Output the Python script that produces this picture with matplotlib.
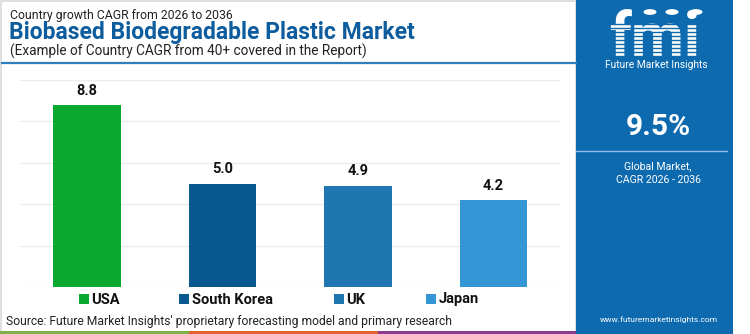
import matplotlib
matplotlib.use('Agg')
import matplotlib.pyplot as plt
from matplotlib.patches import Rectangle, Circle
from matplotlib.lines import Line2D

countries = ['USA', 'South Korea', 'UK', 'Japan']
cagr = [8.8, 5.0, 4.9, 4.2]
bar_colors = ['#0aa82e', '#06588f', '#1f76b1', '#3596d6']

title_top = 'Country growth CAGR from 2026 to 2036'
title_main = 'Biobased Biodegradable Plastic Market'
title_sub = '(Example of Country CAGR from 40+ covered in the Report)'
global_cagr = '9.5%'
source = "Source: Future Market Insights' proprietary forecasting model and primary research"

W, H = 750, 334
panel_blue = '#0e6aae'
plt.rcParams['font.family'] = ['Roboto', 'DejaVu Sans']

fig = plt.figure(figsize=(W / 100, H / 100), dpi=100)


def fx(x):
    return x / W


def fy(y):
    return 1 - y / H


def px_text(x, y, s, **kw):
    fig.text(fx(x), fy(y), s, **kw)


def px_rect(x0, y0, x1, y1, **kw):
    fig.patches.append(Rectangle((fx(x0), fy(y1)), (x1 - x0) / W, (y1 - y0) / H,
                                 transform=fig.transFigure, **kw))


def px_line(x0, y0, x1, y1, **kw):
    fig.lines.append(Line2D([fx(x0), fx(x1)], [fy(y0), fy(y1)],
                            transform=fig.transFigure, **kw))


# page frame and bottom colour strip
px_rect(0.5, 0.5, 576, 333, facecolor='white', edgecolor='#d9d9d9', lw=1.2, zorder=-5)
px_rect(0, 330.5, 189, 334, facecolor='#7db24a', edgecolor='none', zorder=1)
px_rect(189, 330.5, 378, 334, facecolor='#e0632f', edgecolor='none', zorder=1)
px_rect(378, 330.5, 576, 334, facecolor='#8e3a8f', edgecolor='none', zorder=1)

# titles
px_text(10, 15, title_top, fontsize=8.8, color='#222222', va='center')
px_text(9, 33, title_main, fontsize=16.5, fontweight='bold', color='#0d5c9e', va='center')
px_text(10, 51, title_sub, fontsize=9.8, color='#222222', va='center')
px_line(2, 63, 576, 63, color='#2f7fbf', lw=1.6)

# bar chart
ax = fig.add_axes([fx(20), fy(287), (560 - 20) / W, (287 - 80) / H])
x = range(len(countries))
bars = ax.bar(x, cagr, width=0.5, color=bar_colors, zorder=3)
for b, v in zip(bars, cagr):
    ax.text(b.get_x() + b.get_width() / 2, v + 0.35, f'{v:.1f}', ha='center', va='bottom',
            fontsize=10.5, fontweight='bold', color='#111111')
ax.set_ylim(0, 10)
ax.set_xlim(-0.493, 3.49)
ax.set_yticks([0, 2, 4, 6, 8, 10])
ax.grid(axis='y', color='#ebebeb', lw=1)
ax.tick_params(left=False, bottom=False, labelleft=False, labelbottom=False)
for s in ax.spines.values():
    s.set_visible(False)

# legend row
leg_x = [79, 179, 334, 426]
for lx, name, c in zip(leg_x, countries, bar_colors):
    px_rect(lx, 294, lx + 10, 304, facecolor=c, edgecolor='none')
    px_text(lx + 12.5, 299.5, name, fontsize=10.5, fontweight='bold', color='#111111', va='center')

px_text(6, 321.5, source, fontsize=8.75, color='#222222', va='center')

# right info panel
px_rect(576, 0, 733, 334, facecolor=panel_blue, edgecolor='none', zorder=1)
cx = 656
px_text(cx - 1, 56, 'fmi', fontsize=44, fontweight='bold', color='white', ha='center',
        va='baseline', zorder=3)
for yy in range(24, 57, 4):
    px_line(596, yy, 716, yy, color=panel_blue, lw=1.0, zorder=4)
for ccx in [650, 672, 696]:
    fig.patches.append(Circle((fx(ccx), fy(12)), 6.5 / W, transform=fig.transFigure,
                              facecolor='white', edgecolor='none', zorder=5))
px_text(cx, 65.5, 'Future Market Insights', fontsize=7.4, color='white', ha='center', va='center')
px_text(cx + 2, 127, global_cagr, fontsize=21.5, fontweight='bold', color='white', ha='center',
        va='center')
px_line(576, 150.5, 727, 150.5, color='#8fbde3', lw=1)
px_text(cx + 2, 166, 'Global Market,', fontsize=7.6, color='white', ha='center', va='center')
px_text(cx + 2, 179.5, 'CAGR 2026 - 2036', fontsize=7.6, color='white', ha='center', va='center')
px_text(cx + 3, 320, 'www.futuremarketinsights.com', fontsize=6.0, color='white', ha='center',
        va='center')

fig.savefig('out.png', dpi=100)
